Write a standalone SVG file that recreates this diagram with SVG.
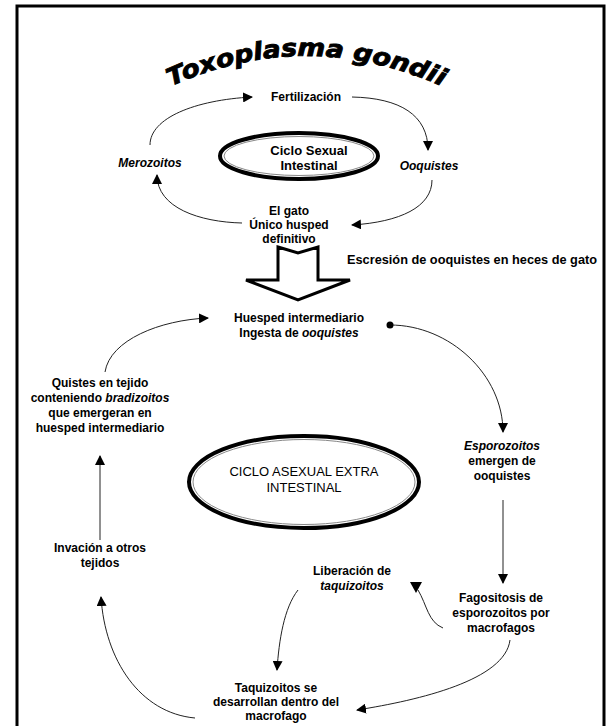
<svg xmlns="http://www.w3.org/2000/svg" width="610" height="726" viewBox="0 0 610 726">
<style>
.t{font-family:"Liberation Sans",Arial,sans-serif;font-size:12px;font-weight:bold;fill:#000;text-anchor:middle}
.i{font-style:italic}
.c{fill:none;stroke:#222;stroke-width:1}
.ah{fill:#000}
.ell{fill:#fff;stroke:#000;stroke-width:4}
.ell2{fill:none;stroke:#888;stroke-width:1}
</style>
<defs>
<marker id="arr" viewBox="0 0 10 10" refX="9" refY="5" markerWidth="10" markerHeight="10" markerUnits="userSpaceOnUse" orient="auto">
<path d="M0,0 L10,5 L0,10 z" fill="#000"/>
</marker>
<marker id="dot" viewBox="0 0 8 8" refX="4" refY="4" markerWidth="8" markerHeight="8" markerUnits="userSpaceOnUse">
<circle cx="4" cy="4" r="3.5" fill="#000"/>
</marker>
<path id="arc" d="M 165,89 Q 305,23 448,89"/>
</defs>
<rect x="0" y="0" width="610" height="726" fill="#fff"/>
<path d="M17,740 L17,6 L604,6 L604,740" fill="none" stroke="#000" stroke-width="3"/>

<g id="title">
<text style="font-family:'DejaVu Sans',sans-serif;font-size:24px;font-weight:bold;font-style:italic" fill="#000" stroke="#000" stroke-width="0.9"><textPath href="#arc" startOffset="50%" text-anchor="middle" textLength="280" lengthAdjust="spacingAndGlyphs">Toxoplasma gondii</textPath></text>
</g>

<g id="connectors">
<path class="c" d="M150,145 C150,118 195,100 252,97" marker-end="url(#arr)"/>
<path class="c" d="M352,97 C400,98 428,115 428,150" marker-end="url(#arr)"/>
<path class="c" d="M432,180 C432,207 400,222 352,225" marker-end="url(#arr)"/>
<path class="c" d="M242,223 C200,222 157,208 157,175" marker-end="url(#arr)"/>
<path class="c" d="M390,325 C450,325 503,375 503,432" marker-start="url(#dot)" marker-end="url(#arr)"/>
<path class="c" d="M105,372 C110,340 160,320 208,318" marker-end="url(#arr)"/>
<path class="c" d="M100,540 L100,456" marker-end="url(#arr)"/>
<path class="c" d="M503,500 L503,583" marker-end="url(#arr)"/>
<path class="c" d="M443,628 C428,622 427,605 418,590"/>
<path d="M410,582 L422,582 L416,593 z" class="ah"/>
<path class="c" d="M298,590 C284,608 279,640 277,670" marker-end="url(#arr)"/>
<path class="c" d="M510,640 C505,680 420,700 357,710" marker-end="url(#arr)"/>
<path class="c" d="M195,718 C140,713 105,660 101,597" marker-end="url(#arr)"/>
</g>

<g id="bigarrow">
<path d="M278,247 L298,253 L318,247 L318,280 L350,280 L298,300 L246,280 L278,280 z" fill="#fff" stroke="#000" stroke-width="3" stroke-linejoin="miter"/>
</g>

<g id="n-fert"><text class="t" x="306" y="101">Fertilización</text></g>
<g id="n-sexual">
<ellipse class="ell" cx="299" cy="156" rx="79" ry="23"/>
<ellipse class="ell2" cx="299" cy="156" rx="75" ry="19.5"/>
<text class="t" style="font-size:13px" x="309" y="155">Ciclo Sexual</text>
<text class="t" style="font-size:13px" x="309" y="170">Intestinal</text>
</g>
<g id="n-mero"><text class="t i" x="150" y="167">Merozoitos</text></g>
<g id="n-ooq"><text class="t i" x="429" y="170">Ooquistes</text></g>
<g id="n-gato">
<text class="t" x="289" y="215">El gato</text>
<text class="t" x="289" y="229">Único husped</text>
<text class="t" x="289" y="243">definitivo</text>
</g>
<g id="n-escr"><text class="t" x="472" y="264" textLength="250" lengthAdjust="spacingAndGlyphs">Escresión de ooquistes en heces de gato</text></g>
<g id="n-huesped">
<text class="t" x="299" y="322">Huesped intermediario</text>
<text class="t" x="299" y="337">Ingesta de <tspan class="i">ooquistes</tspan></text>
</g>
<g id="n-quistes">
<text class="t" x="100" y="387">Quistes en tejido</text>
<text class="t" x="100" y="402">conteniendo <tspan class="i">bradizoitos</tspan></text>
<text class="t" x="100" y="417">que emergeran en</text>
<text class="t" x="100" y="432">huesped intermediario</text>
</g>
<g id="n-asexual">
<ellipse class="ell" cx="304" cy="482" rx="115" ry="46"/>
<ellipse class="ell2" cx="304" cy="482" rx="111" ry="42.5"/>
<text class="t" style="font-size:13px;font-weight:normal" x="304" y="476">CICLO ASEXUAL EXTRA</text>
<text class="t" style="font-size:13px;font-weight:normal" x="304" y="492">INTESTINAL</text>
</g>
<g id="n-espo">
<text class="t i" x="502" y="450">Esporozoitos</text>
<text class="t" x="502" y="465">emergen de</text>
<text class="t" x="502" y="480">ooquistes</text>
</g>
<g id="n-invacion">
<text class="t" x="100" y="552">Invación a otros</text>
<text class="t" x="100" y="567">tejidos</text>
</g>
<g id="n-liberacion">
<text class="t" x="352" y="575">Liberación de</text>
<text class="t i" x="352" y="590">taquizoitos</text>
</g>
<g id="n-fago">
<text class="t" x="501" y="602">Fagositosis de</text>
<text class="t" x="501" y="617">esporozoitos por</text>
<text class="t" x="501" y="632">macrofagos</text>
</g>
<g id="n-taqui">
<text class="t" x="276" y="692">Taquizoitos se</text>
<text class="t" x="276" y="706">desarrollan dentro del</text>
<text class="t" x="276" y="720">macrofago</text>
</g>
</svg>
